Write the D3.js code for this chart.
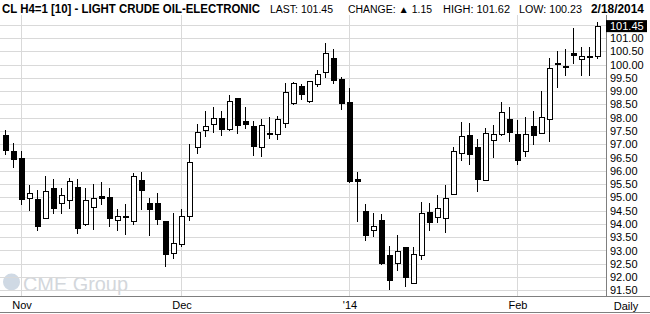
<!DOCTYPE html>
<html>
<head>
<meta charset="utf-8">
<script src="https://cdn.jsdelivr.net/npm/d3@7"></script>
<style>
  html, body { margin: 0; padding: 0; background: #fff; }
  svg { display: block; }
  text { font-family: "Liberation Sans", Arial, sans-serif; }
</style>
</head>
<body>
<svg id="chart" width="650" height="314"></svg>
<script>
// daily candles, 75 sessions (index 0 = Oct 30 2013 ... 74 = Feb 18 2014)
const opens  = [97.35, 96.75, 96.48, 94.96, 94.94, 94.21, 95.35, 94.77, 94.89, 95.39,
                93.98, 94.62, 95.05, 95.01, 94.13, 94.30, 94.10, 95.64, 94.79, 94.79,
                94.10, 92.89, 93.23, 94.29, 96.86, 97.51, 97.74, 98.00, 97.55, 98.73,
                97.86, 97.68, 96.87, 97.44, 97.36, 97.78, 98.53, 99.18, 98.61, 99.25,
                99.71, 100.24, 99.44, 98.58, 95.70, 94.49, 93.76, 94.15, 92.83, 92.51,
                93.13, 91.76, 92.82, 94.45, 94.24, 94.22, 95.12, 96.65, 97.36, 96.88,
                95.62, 97.14, 97.36, 97.97, 97.40, 96.71, 97.67, 97.40, 97.93, 100.05,
                99.95, 100.43, 100.21, 100.32, 100.30];
const highs  = [97.54, 97.05, 96.75, 95.46, 95.28, 95.80, 95.69, 95.36, 95.74, 95.69,
                95.35, 95.50, 95.58, 95.35, 94.55, 94.75, 95.93, 95.95, 94.96, 95.16,
                94.10, 94.41, 94.55, 97.02, 97.75, 98.24, 98.39, 98.24, 98.85, 98.76,
                98.39, 97.86, 97.94, 98.04, 98.08, 99.30, 99.34, 99.26, 99.39, 99.79,
                100.82, 100.59, 99.53, 99.11, 95.94, 94.76, 94.42, 94.39, 93.17, 93.58,
                93.13, 93.13, 94.83, 94.80, 95.08, 95.48, 96.88, 97.84, 97.79, 97.19,
                97.63, 97.74, 98.59, 98.39, 97.93, 98.01, 98.24, 98.99, 100.24, 100.53,
                100.58, 101.39, 100.66, 100.66, 101.62];
const lows   = [96.58, 96.12, 94.72, 94.50, 93.73, 94.18, 94.37, 94.37, 94.56, 93.63,
                93.94, 93.79, 94.71, 93.89, 93.74, 93.59, 93.97, 94.51, 93.56, 93.97,
                92.36, 92.69, 93.12, 94.12, 96.65, 97.27, 97.41, 97.31, 97.49, 97.39,
                97.57, 96.55, 96.52, 97.20, 97.16, 97.61, 98.49, 98.65, 98.57, 99.16,
                99.48, 99.26, 98.29, 95.53, 94.06, 93.37, 93.52, 92.45, 91.50, 92.24,
                91.63, 91.76, 92.66, 93.75, 94.05, 93.67, 95.08, 96.37, 96.23, 95.19,
                95.62, 96.48, 97.31, 97.08, 96.21, 96.53, 96.97, 97.40, 97.08, 99.11,
                99.58, 100.01, 99.56, 99.58, 100.23];
const closes = [96.76, 96.42, 94.91, 95.13, 93.89, 95.23, 94.57, 95.08, 95.60, 93.82,
                94.89, 94.96, 94.95, 94.17, 94.28, 94.21, 95.79, 95.25, 94.54, 94.16,
                92.84, 93.27, 94.28, 96.33, 97.46, 97.66, 97.97, 97.54, 98.61, 97.69,
                97.73, 96.89, 97.70, 97.35, 97.93, 98.95, 99.29, 98.87, 99.37, 99.63,
                100.42, 99.39, 98.53, 95.59, 95.59, 93.56, 93.89, 92.49, 91.86, 92.98,
                91.97, 92.84, 94.38, 94.04, 94.58, 94.97, 96.71, 97.29, 96.59, 95.65,
                97.39, 97.36, 98.19, 97.44, 96.37, 97.36, 97.32, 98.01, 99.85, 100.01,
                99.91, 100.31, 100.31, 100.30, 101.45];

// month boundaries (session index) and their labels
const monthStarts = [2, 22, 43, 64];
const monthLabels = ['Nov', 'Dec', "'14", 'Feb'];

// price ticks
const priceTicks = [91.5, 92, 92.5, 93, 93.5, 94, 94.5, 95, 95.5, 96, 96.5, 97,
                    97.5, 98, 98.5, 99, 99.5, 100, 100.5, 101];
const gridTicks = priceTicks.concat([101.5]);

const title = 'CL H4=1 [10] - LIGHT CRUDE OIL-ELECTRONIC';
const lastPrice = 101.45;
const change = 1.15;
const dayHigh = 101.62;
const dayLow = 100.23;
const dateLabel = '2/18/2014';

const W = 650, H = 314;
const PLOT_TOP = 15, PLOT_BOTTOM = 296, AXIS_X = 606;
const fmt = d3.format('.2f');

const svg = d3.select('#chart');

const candles = opens.map((o, i) => ({ i: i, o: o, h: highs[i], l: lows[i], c: closes[i] }));

const x = d3.scaleLinear().domain([0, 74]).range([5, 597]);
const y = d3.scaleLinear().domain([91.5, 101.5]).range([290.3, 24.8]);

// watermark
const wm = svg.append('g');
wm.append('circle')
  .attr('cx', 11.5).attr('cy', 282).attr('r', 8.5)
  .attr('fill', '#cfd9e4');
wm.append('text')
  .attr('x', 23).attr('y', 290.5)
  .attr('font-size', 21)
  .attr('textLength', 105).attr('lengthAdjust', 'spacingAndGlyphs')
  .attr('fill', '#d3d7dc')
  .text('CME Group');

// horizontal grid
svg.append('g')
  .selectAll('line')
  .data(gridTicks)
  .join('line')
  .attr('x1', 0).attr('x2', AXIS_X)
  .attr('y1', d => Math.round(y(d)) + 0.5)
  .attr('y2', d => Math.round(y(d)) + 0.5)
  .attr('stroke', '#d9d9d9');

// vertical grid at month starts
svg.append('g')
  .selectAll('line')
  .data(monthStarts)
  .join('line')
  .attr('x1', d => x(d) + 0.5).attr('x2', d => x(d) + 0.5)
  .attr('y1', PLOT_TOP).attr('y2', PLOT_BOTTOM)
  .attr('stroke', '#d9d9d9');

// candles
const cg = svg.append('g').attr('shape-rendering', 'crispEdges');
cg.selectAll('line')
  .data(candles)
  .join('line')
  .attr('x1', d => x(d.i) + 0.5).attr('x2', d => x(d.i) + 0.5)
  .attr('y1', d => y(d.h)).attr('y2', d => y(d.l))
  .attr('stroke', '#000');

cg.selectAll('rect')
  .data(candles)
  .join('rect')
  .attr('x', d => d.c >= d.o ? x(d.i) - 1.5 : x(d.i) - 2)
  .attr('width', d => d.c >= d.o ? 5 : 6)
  .attr('y', d => y(Math.max(d.o, d.c)))
  .attr('height', d => Math.max(2, y(Math.min(d.o, d.c)) - y(Math.max(d.o, d.c))))
  .attr('fill', d => d.c >= d.o ? '#fff' : '#000')
  .attr('stroke', d => d.c >= d.o ? '#000' : 'none');

// right price axis
const yAxis = d3.axisRight(y)
  .tickValues(priceTicks)
  .tickFormat(fmt)
  .tickSize(0)
  .tickPadding(4);
const ya = svg.append('g')
  .attr('transform', `translate(${AXIS_X},0)`)
  .call(yAxis);
ya.select('.domain').remove();
ya.selectAll('text')
  .attr('font-family', '"Liberation Sans", Arial, sans-serif')
  .attr('font-size', 11)
  .attr('fill', '#000');

svg.append('line')
  .attr('x1', AXIS_X + 0.5).attr('x2', AXIS_X + 0.5)
  .attr('y1', PLOT_TOP).attr('y2', PLOT_BOTTOM)
  .attr('stroke', '#7f7f7f');

// last price marker
const lastG = svg.append('g').attr('transform', `translate(${AXIS_X},${y(lastPrice)})`);
lastG.append('rect')
  .attr('x', 0).attr('y', -6).attr('width', 41).attr('height', 12)
  .attr('fill', '#000');
lastG.append('text')
  .attr('x', 4).attr('y', 4)
  .attr('font-size', 11).attr('fill', '#fff')
  .text(fmt(lastPrice));

// bottom time axis
const xAxis = d3.axisBottom(x)
  .tickValues(monthStarts)
  .tickFormat((d, i) => monthLabels[i])
  .tickSize(0)
  .tickPadding(5);
const xa = svg.append('g')
  .attr('transform', `translate(0.5,${PLOT_BOTTOM})`)
  .call(xAxis);
xa.select('.domain').remove();
xa.selectAll('text')
  .attr('font-family', '"Liberation Sans", Arial, sans-serif')
  .attr('font-size', 11)
  .attr('fill', '#000');

svg.append('text')
  .attr('x', 626).attr('y', 309.5)
  .attr('text-anchor', 'middle')
  .attr('font-size', 11)
  .text('Daily');

svg.append('line')
  .attr('x1', 0).attr('x2', W)
  .attr('y1', PLOT_BOTTOM + 0.5).attr('y2', PLOT_BOTTOM + 0.5)
  .attr('stroke', '#7f7f7f');
svg.append('line')
  .attr('x1', 0).attr('x2', W)
  .attr('y1', 312.5).attr('y2', 312.5)
  .attr('stroke', '#7f7f7f');

// header
const hdr = svg.append('g');
hdr.append('text')
  .attr('x', 2).attr('y', 12.5)
  .attr('font-size', 12).attr('font-weight', 'bold')
  .attr('textLength', 258).attr('lengthAdjust', 'spacingAndGlyphs')
  .text(title);
const stats = [
  { x: 270, w: 63, t: 'LAST: ' + fmt(lastPrice) },
  { x: 348, w: 84, t: 'CHANGE: \u25B2 ' + fmt(change) },
  { x: 443, w: 67, t: 'HIGH: ' + fmt(dayHigh) },
  { x: 519, w: 63, t: 'LOW: ' + fmt(dayLow) }
];
hdr.selectAll('text.stat')
  .data(stats)
  .join('text')
  .attr('class', 'stat')
  .attr('x', d => d.x).attr('y', 12.5)
  .attr('font-size', 10)
  .attr('textLength', d => d.w).attr('lengthAdjust', 'spacingAndGlyphs')
  .text(d => d.t);
hdr.append('text')
  .attr('x', 591).attr('y', 12.5)
  .attr('font-size', 13).attr('font-weight', 'bold')
  .attr('textLength', 53).attr('lengthAdjust', 'spacingAndGlyphs')
  .text(dateLabel);
</script>
</body>
</html>
